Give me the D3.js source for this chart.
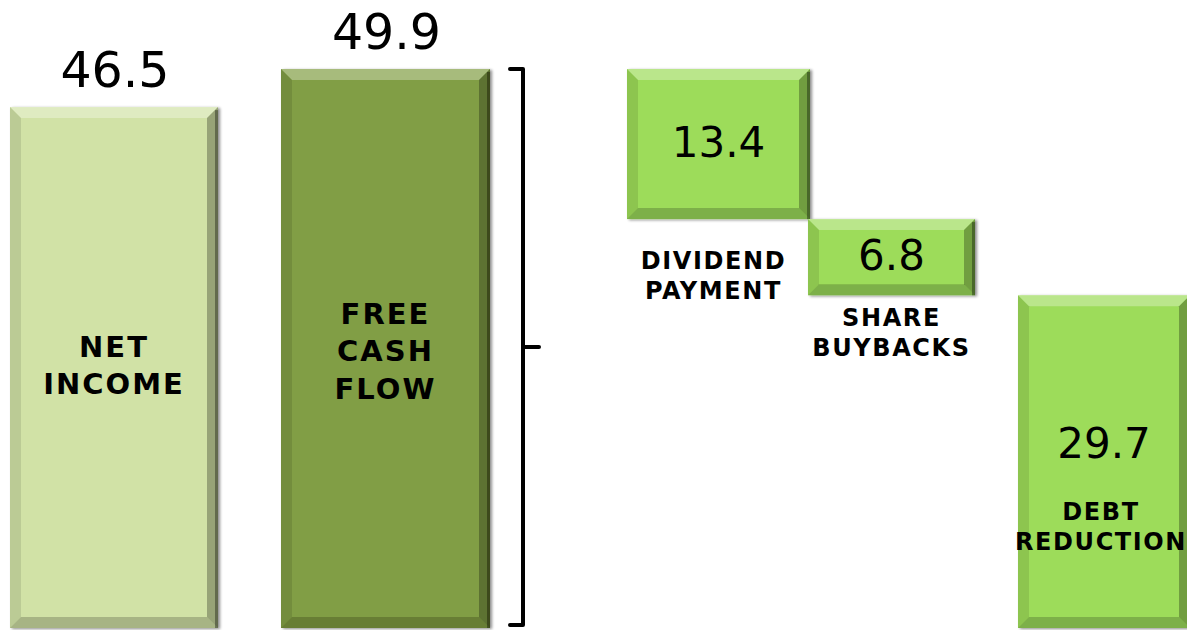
<!DOCTYPE html>
<html>
<head>
<meta charset="utf-8">
<script src="https://cdn.jsdelivr.net/npm/d3@7"></script>
<style>
  html, body { margin: 0; padding: 0; background: #fff; overflow: hidden; }
  text { font-family: "DejaVu Sans", Verdana, sans-serif; fill: #000; }
  .val { font-size: 49px; }
  .inval { font-size: 42px; }
  .lbl { font-size: 24px; font-weight: bold; letter-spacing: 1.6px; }
  .biglbl { font-size: 29px; font-weight: bold; letter-spacing: 2px; }
</style>
</head>
<body>
<div id="svg"></div>
<script>
var width = 1187, height = 630;
var svg = d3.select('#svg').append('svg')
	.attr('width', width).attr('height', height);

// data
var categories = ['net', 'fcf', 'div', 'buy', 'debt'];
var values     = [46.5, 49.9, 13.4, 6.8, 29.7];
var valueText  = ['46.5', '49.9', '13.4', '6.8', '29.7'];
var labels     = [['NET', 'INCOME'], ['FREE', 'CASH', 'FLOW'], ['DIVIDEND', 'PAYMENT'], ['SHARE', 'BUYBACKS'], ['DEBT', 'REDUCTION']];
// waterfall: the last three bars split free cash flow from the top down
var isStep     = [false, false, true, true, true];

// running base for each bar
var bases = [];
var running = values[1];
values.forEach(function(v, i) {
	if (isStep[i]) { running -= v; bases.push(running); }
	else bases.push(0);
});

var y = d3.scaleLinear().domain([0, 49.9]).range([628, 69]);
var xLeft = d3.scaleOrdinal().domain(categories).range([10, 281, 627, 808, 1018]);
var barW = d3.scaleOrdinal().domain(categories).range([208, 209, 183, 167, 172]);
var fill = d3.scaleOrdinal().domain(categories)
	.range(['#d1e2a6', '#819e44', '#9ddc5a', '#9ddc5a', '#9ddc5a']);

var bars = categories.map(function(c, i) {
	return {
		cat: c, v: values[i], base: bases[i],
		x: xLeft(c), w: barW(c),
		y0: y(bases[i] + values[i]), y1: y(bases[i]),
		color: fill(c)
	};
});

// drop shadow under bars
var defs = svg.append('defs');
var f = defs.append('filter').attr('id', 'shadow')
	.attr('x', '-10%').attr('y', '-10%').attr('width', '130%').attr('height', '130%');
f.append('feGaussianBlur').attr('in', 'SourceAlpha').attr('stdDeviation', 1.5).attr('result', 'b');
f.append('feOffset').attr('in', 'b').attr('dx', 2).attr('dy', 1).attr('result', 'o');
f.append('feComponentTransfer').attr('in', 'o').attr('result', 'o2')
	.append('feFuncA').attr('type', 'linear').attr('slope', 0.45);
var fm = f.append('feMerge');
fm.append('feMergeNode').attr('in', 'o2');
fm.append('feMergeNode').attr('in', 'SourceGraphic');

var bev = 11;

var g = svg.selectAll('g.bar')
	.data(bars)
	.enter()
	.append('g')
	.attr('class', 'bar')
	.attr('filter', 'url(#shadow)');

g.append('rect')
	.attr('x', function(d) { return d.x; })
	.attr('y', function(d) { return d.y0; })
	.attr('width', function(d) { return d.w; })
	.attr('height', function(d) { return d.y1 - d.y0; })
	.attr('fill', function(d) { return d.color; });

// bevel faces: top light, left slightly dark, right & bottom dark
function face(d, side) {
	var x0 = d.x, x1 = d.x + d.w, t = d.y0, b = d.y1;
	var p;
	if (side == 'top') p = [[x0, t], [x1, t], [x1 - bev, t + bev], [x0 + bev, t + bev]];
	if (side == 'left') p = [[x0, t], [x0 + bev, t + bev], [x0 + bev, b - bev], [x0, b]];
	if (side == 'right') p = [[x1, t], [x1, b], [x1 - bev, b - bev], [x1 - bev, t + bev]];
	if (side == 'bottom') p = [[x0, b], [x0 + bev, b - bev], [x1 - bev, b - bev], [x1, b]];
	return p.map(function(q) { return q.join(','); }).join(' ');
}

var faces = [
	{side: 'top', color: '#ffffff', op: 0.30},
	{side: 'left', color: '#000000', op: 0.10},
	{side: 'right', color: '#000000', op: 0.28},
	{side: 'bottom', color: '#000000', op: 0.20}
];
faces.forEach(function(fc) {
	g.append('polygon')
		.attr('points', function(d) { return face(d, fc.side); })
		.attr('fill', fc.color)
		.attr('fill-opacity', fc.op);
});

// darker outer edge on the right side
g.append('rect')
	.attr('x', function(d) { return d.x + d.w - 3; })
	.attr('y', function(d) { return d.y0 + 3; })
	.attr('width', 3)
	.attr('height', function(d) { return d.y1 - d.y0 - 3; })
	.attr('fill', '#000').attr('fill-opacity', 0.35);

// values above the first two bars
svg.selectAll('text.val')
	.data(bars.slice(0, 2))
	.enter()
	.append('text')
	.attr('class', 'val')
	.attr('text-anchor', 'middle')
	.attr('x', function(d) { return d.x + d.w / 2 + 1; })
	.attr('y', function(d) { return d.y0 - 20; })
	.text(function(d, i) { return valueText[i]; });

// values inside the step bars
svg.selectAll('text.inval')
	.data(bars.slice(2))
	.enter()
	.append('text')
	.attr('class', 'inval')
	.attr('text-anchor', 'middle')
	.attr('x', function(d) { return d.x + d.w / 2; })
	.attr('y', function(d, i) {
		if (i == 2) return d.y0 + 163;
		return (d.y0 + d.y1) / 2 + 13;
	})
	.text(function(d, i) { return valueText[i + 2]; });

// category labels
function addLabel(lines, cx, cy, cls, lh) {
	var t = svg.append('text')
		.attr('class', cls)
		.attr('text-anchor', 'middle');
	var n = lines.length;
	lines.forEach(function(s, k) {
		t.append('tspan')
			.attr('x', cx)
			.attr('y', cy + (k - (n - 1) / 2) * lh)
			.attr('dy', '0.36em')
			.text(s);
	});
}

// inside the big bars
addLabel(labels[0], bars[0].x + bars[0].w / 2, 365, 'biglbl', 37);
addLabel(labels[1], bars[1].x + bars[1].w / 2, 351, 'biglbl', 37.5);
// below the small step bars
var buyMid = (bars[3].y0 + bars[3].y1) / 2;
addLabel(labels[2], bars[2].x + bars[2].w / 2 - 5, buyMid + 18, 'lbl', 30);
addLabel(labels[3], bars[3].x + bars[3].w / 2, bars[3].y1 + 37, 'lbl', 30);
// inside the debt bar (kept just inside the right edge)
addLabel(labels[4], bars[4].x + bars[4].w / 2 - 3, 526, 'lbl', 30);

// brace grouping the free cash flow uses
var bTop = y(values[1]), bBot = y(0) - 3;
var bx = 523;
var brace = d3.path();
brace.moveTo(bx - 13, bTop);
brace.lineTo(bx, bTop);
brace.lineTo(bx, bBot);
brace.lineTo(bx - 13, bBot);
brace.moveTo(bx, (bTop + bBot) / 2);
brace.lineTo(bx + 16, (bTop + bBot) / 2);
svg.append('path')
	.attr('d', brace.toString())
	.attr('fill', 'none')
	.attr('stroke', '#000')
	.attr('stroke-width', 4)
	.attr('stroke-linecap', 'round')
	.attr('stroke-linejoin', 'round');
</script>
</body>
</html>
